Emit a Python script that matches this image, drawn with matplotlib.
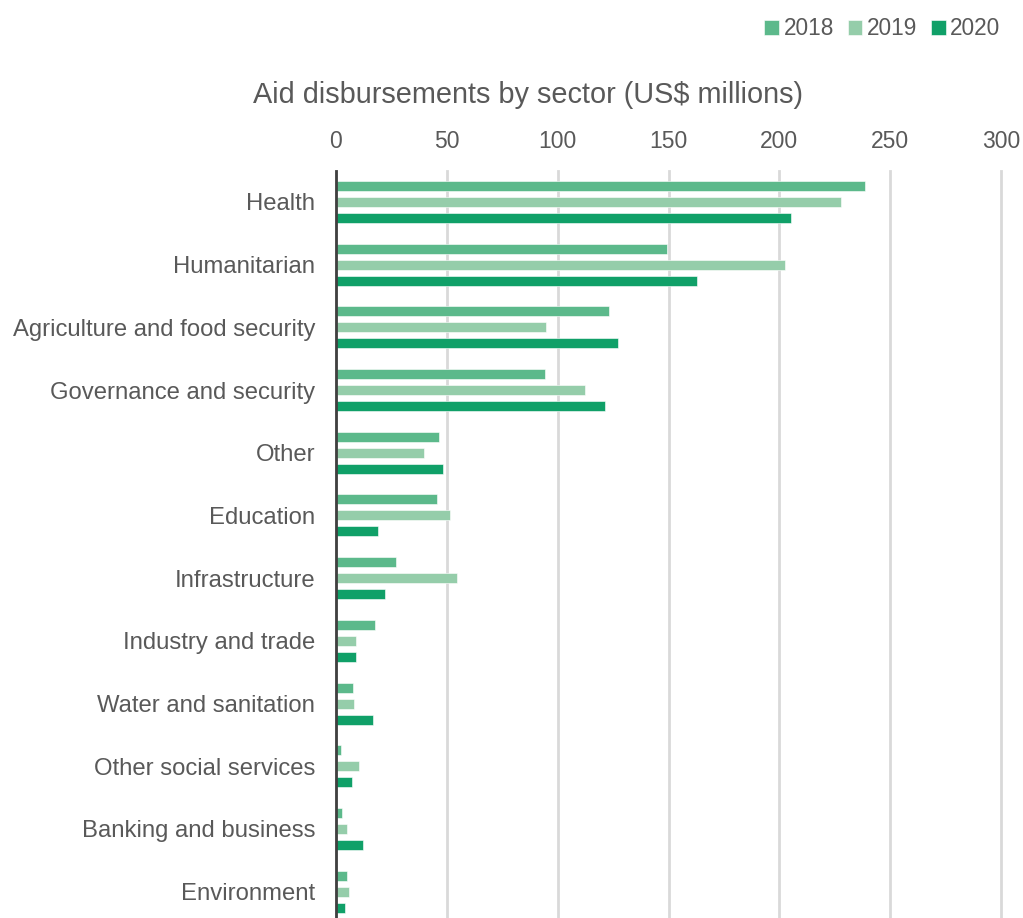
import numpy as np
import matplotlib
matplotlib.use("Agg")
import matplotlib.pyplot as plt

plt.rcParams['font.family'] = ['Liberation Sans', 'DejaVu Sans']

# data (US$ millions)
sectors = ["Health", "Humanitarian", "Agriculture and food security",
           "Governance and security", "Other", "Education", "Infrastructure",
           "Industry and trade", "Water and sanitation", "Other social services",
           "Banking and business", "Environment"]
years = ["2018", "2019", "2020"]
v2018 = [238.7, 149.2, 123.0, 94.4, 46.3, 45.7, 27.0, 17.5, 7.5, 2.4, 2.6, 5.1]
v2019 = [227.8, 202.6, 94.7, 112.2, 39.5, 51.4, 54.7, 9.2, 8.3, 10.4, 5.0, 5.9]
v2020 = [205.1, 162.7, 127.2, 121.4, 48.2, 19.0, 22.2, 9.2, 16.6, 7.1, 12.2, 4.2]
colors = ["#5CB98B", "#95CDAA", "#10A068"]

text_col = "#595959"

fig = plt.figure(figsize=(10.23, 9.18), dpi=100)
ax = fig.add_axes([336 / 1023, -5 / 918, 665 / 1023, (918 - 170.6 + 5) / 918])

y = np.arange(len(sectors))
h = 0.16
off = 0.255
for i, (vals, c, lab) in enumerate(zip([v2018, v2019, v2020], colors, years)):
    ax.barh(y + (i - 1) * off, vals, height=h, color=c, label=lab,
            edgecolor="white", linewidth=0.4, zorder=3)

ax.set_xlim(0, 300)
ax.set_ylim(len(sectors) - 0.5, -0.5)
ax.set_xticks(range(0, 301, 50))
ax.xaxis.tick_top()
ax.tick_params(axis="x", length=0, pad=13, labelsize=16.5, labelcolor=text_col)
ax.set_yticks(y)
ax.set_yticklabels(sectors)
ax.tick_params(axis="y", length=0, pad=15, labelsize=17.2, labelcolor=text_col)
ax.grid(axis="x", color="#D9D9D9", linewidth=2, zorder=0)
for gl in ax.get_xgridlines():
    gl.set_clip_on(False)
for s in ["top", "right", "bottom"]:
    ax.spines[s].set_visible(False)
ax.spines["left"].set_color("#404040")
ax.spines["left"].set_linewidth(2)
ax.spines["left"].set_zorder(4)

fig.text(528 / 1023, 1 - 95 / 918, "Aid disbursements by sector (US$ millions)",
         ha="center", va="center", fontsize=20.8, color=text_col)

fig.legend(loc="upper right", bbox_to_anchor=(1.0, 1.006), ncol=3, frameon=False,
           fontsize=16.3, handlelength=0.65, handleheight=0.65, handletextpad=0.2,
           columnspacing=0.6, borderaxespad=0.6, labelcolor=text_col)

fig.savefig("out.png", dpi=100)
